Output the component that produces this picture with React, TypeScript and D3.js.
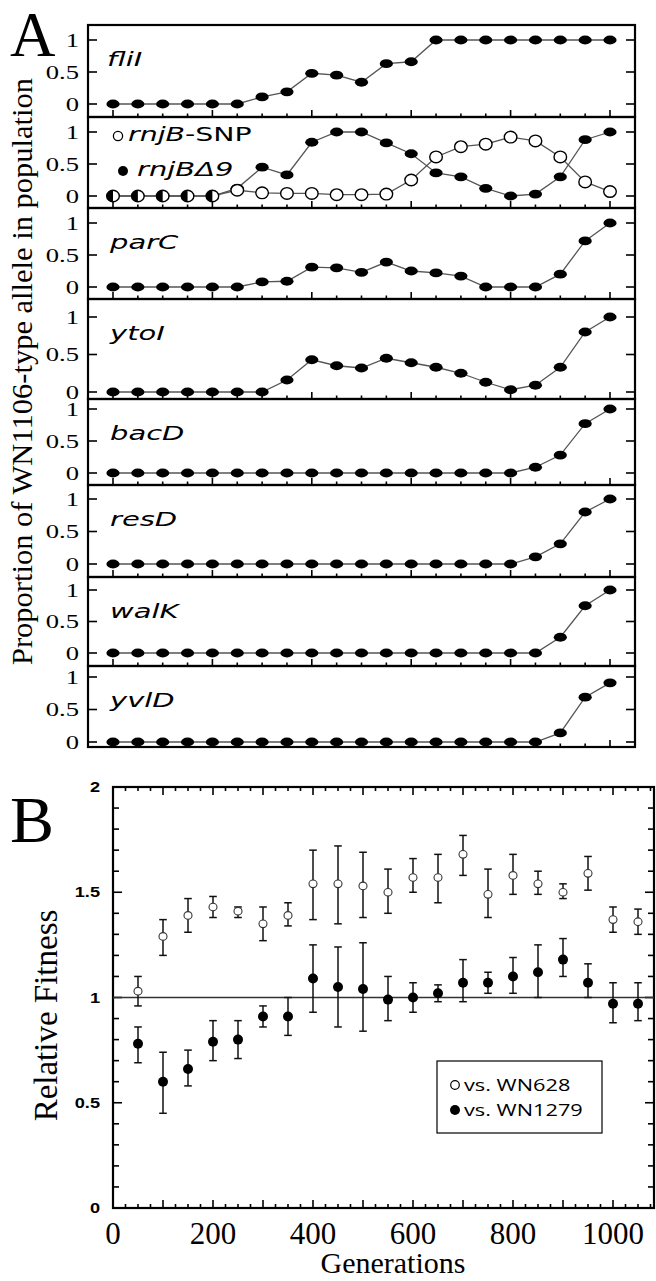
import React from 'react'
import * as d3 from 'd3'

// ---- panel A data (proportion of WN1106-type allele)
const generations = [0, 50, 100, 150, 200, 250, 300, 350, 400, 450, 500, 550, 600, 650, 700, 750, 800, 850, 900, 950, 1000]
const genes = ['fliI', 'rnjB', 'parC', 'ytoI', 'bacD', 'resD', 'walK', 'yvlD']

const fliI = [0, 0, 0, 0, 0, 0, 0.11, 0.19, 0.48, 0.45, 0.34, 0.63, 0.66, 1, 1, 1, 1, 1, 1, 1, 1]
const rnjBSNP = [0, 0, 0, 0, 0, 0.09, 0.05, 0.04, 0.04, 0.02, 0.02, 0.03, 0.25, 0.61, 0.77, 0.81, 0.92, 0.86, 0.61, 0.22, 0.07]
const rnjBDelta9 = [0, 0, 0, 0, 0, 0.12, 0.45, 0.33, 0.84, 1, 1, 0.83, 0.66, 0.36, 0.3, 0.12, 0, 0.03, 0.3, 0.88, 1]
const parC = [0, 0, 0, 0, 0, 0, 0.08, 0.09, 0.31, 0.3, 0.23, 0.39, 0.25, 0.22, 0.17, 0, 0, 0, 0.2, 0.72, 1]
const ytoI = [0, 0, 0, 0, 0, 0, 0, 0.16, 0.43, 0.35, 0.32, 0.45, 0.39, 0.33, 0.25, 0.13, 0.03, 0.09, 0.33, 0.8, 1]
const bacD = [0, 0, 0, 0, 0, 0, 0, 0, 0, 0, 0, 0, 0, 0, 0, 0, 0, 0.09, 0.28, 0.77, 1]
const resD = [0, 0, 0, 0, 0, 0, 0, 0, 0, 0, 0, 0, 0, 0, 0, 0, 0, 0.11, 0.31, 0.8, 1]
const walK = [0, 0, 0, 0, 0, 0, 0, 0, 0, 0, 0, 0, 0, 0, 0, 0, 0, 0, 0.25, 0.75, 1]
const yvlD = [0, 0, 0, 0, 0, 0, 0, 0, 0, 0, 0, 0, 0, 0, 0, 0, 0, 0, 0.14, 0.69, 0.91]
const yTicksA = [0, 0.5, 1]
const yTickLabelsA = ['0', '0.5', '1']

// ---- panel B data (relative fitness)
const gensB = [50, 100, 150, 200, 250, 300, 350, 400, 450, 500, 550, 600, 650, 700, 750, 800, 850, 900, 950, 1000, 1050]
const fit628 = [1.03, 1.29, 1.39, 1.43, 1.41, 1.35, 1.39, 1.54, 1.54, 1.53, 1.5, 1.57, 1.57, 1.68, 1.49, 1.58, 1.54, 1.5, 1.59, 1.37, 1.36]
const lo628 = [0.96, 1.2, 1.31, 1.38, 1.38, 1.27, 1.34, 1.37, 1.35, 1.38, 1.4, 1.5, 1.45, 1.58, 1.38, 1.49, 1.49, 1.47, 1.51, 1.31, 1.3]
const hi628 = [1.1, 1.37, 1.47, 1.48, 1.43, 1.43, 1.45, 1.7, 1.72, 1.69, 1.61, 1.66, 1.68, 1.77, 1.61, 1.68, 1.6, 1.54, 1.67, 1.43, 1.42]
const fit1279 = [0.78, 0.6, 0.66, 0.79, 0.8, 0.91, 0.91, 1.09, 1.05, 1.04, 0.99, 1.0, 1.02, 1.07, 1.07, 1.1, 1.12, 1.18, 1.07, 0.97, 0.97]
const lo1279 = [0.69, 0.45, 0.58, 0.7, 0.71, 0.86, 0.82, 0.93, 0.86, 0.84, 0.89, 0.93, 0.98, 0.98, 1.02, 1.02, 1.0, 1.1, 1.0, 0.88, 0.89]
const hi1279 = [0.86, 0.74, 0.75, 0.89, 0.89, 0.96, 1.0, 1.25, 1.24, 1.26, 1.1, 1.07, 1.06, 1.18, 1.12, 1.19, 1.25, 1.28, 1.16, 1.07, 1.07]
const xTickLabelsB = [0, 200, 400, 600, 800, 1000]
const yTickLabelsB = [0, 0.5, 1, 1.5, 2]
const legendB = ['vs. WN628', 'vs. WN1279']

const W = 656
const H = 1281

// layout of the stacked panels in A
const panelEdges = [25, 117, 208, 299, 399, 485, 577, 666, 747]
const panelZeroOne = [[104, 40], [196, 132], [287, 223], [392, 317], [473, 409], [564, 499], [653, 590], [742, 677]]
const aLeft = 88
const aRight = 635

const serif = '"Liberation Serif", "Times New Roman", serif'
const sans = '"DejaVu Sans", Verdana, sans-serif'

function PanelA() {
	const x = d3.scaleLinear().domain([0, 1000]).range([113, 610])
	const series = [fliI, null, parC, ytoI, bacD, resD, walK, yvlD]
	const minorTicks = d3.range(0, 1001, 50)

	return (
		<g>
			{genes.map((gene, i) => {
				const top = panelEdges[i]
				const bottom = panelEdges[i + 1]
				const y = d3.scaleLinear().domain([0, 1]).range(panelZeroOne[i])
				const line = d3.line<number>().x((d, j) => x(generations[j])).y(d => y(d))
				return (
					<g key={gene}>
						<rect x={aLeft} y={top} width={aRight - aLeft} height={bottom - top} fill="none" stroke="#000" strokeWidth={2.2} />
						{yTicksA.map((t, k) => (
							<g key={k}>
								<line x1={aLeft} x2={aLeft + 9} y1={y(t)} y2={y(t)} stroke="#000" strokeWidth={1.6} />
								<line x1={aRight - 9} x2={aRight} y1={y(t)} y2={y(t)} stroke="#000" strokeWidth={1.6} />
								<text transform={`translate(79,${y(t) + 6.5}) scale(1.4,1)`} textAnchor="end" fontFamily={serif} fontSize={19}>{yTickLabelsA[k]}</text>
							</g>
						))}
						{minorTicks.map(t => (
							<line key={t} x1={x(t)} x2={x(t)} y1={bottom} y2={bottom - (t % 200 === 0 ? 7 : 3.5)} stroke="#000" strokeWidth={1.6} />
						))}
						{series[i] ? (
							<g>
								<path d={line(series[i]) || ''} fill="none" stroke="#555" strokeWidth={1.3} />
								{series[i].map((v, j) => (
									<ellipse key={j} cx={x(generations[j])} cy={y(v)} rx={6.6} ry={4.4} fill="#000" />
								))}
								<text transform={`translate(${gene === 'fliI' ? 107 : 110},${top + 41}) scale(1.45,1)`} fontFamily={sans} fontStyle="italic" fontSize={20}>{gene}</text>
							</g>
						) : (
							<g>
								<path d={line(rnjBDelta9) || ''} fill="none" stroke="#555" strokeWidth={1.3} />
								<path d={line(rnjBSNP) || ''} fill="none" stroke="#555" strokeWidth={1.3} />
								{rnjBDelta9.map((v, j) => (
									<ellipse key={'f' + j} cx={x(generations[j])} cy={y(v)} rx={6.6} ry={4.4} fill="#000" />
								))}
								{rnjBSNP.map((v, j) => (
									<ellipse key={'o' + j} cx={x(generations[j])} cy={y(v)} rx={6.3} ry={5.8} fill="#fff" stroke="#000" strokeWidth={1.4} />
								))}
								{rnjBSNP.map((v, j) => v === rnjBDelta9[j] && v === 0 ? (
									<path key={'h' + j} d={`M${x(generations[j])},${y(v) - 5.8} A6.3,5.8 0 0 0 ${x(generations[j])},${y(v) + 5.8} Z`} fill="#000" />
								) : null)}
								<circle cx={118} cy={136} r={4.6} fill="#fff" stroke="#000" strokeWidth={1.3} />
								<text transform={`translate(128,141) scale(1.42,1)`} fontFamily={sans} fontSize={20}>
									<tspan fontStyle="italic">rnjB</tspan>-SNP
								</text>
								<circle cx={123} cy={171} r={5} fill="#000" />
								<text transform={`translate(137,176) scale(1.45,1)`} fontFamily={sans} fontStyle="italic" fontSize={20}>rnjBΔ9</text>
							</g>
						)}
					</g>
				)
			})}
			<text x={10} y={56} fontFamily={serif} fontSize={63}>A</text>
			<text transform={`translate(32,${(78 + 665) / 2}) rotate(-90)`} textAnchor="middle" fontFamily={serif} fontSize={29} textLength={587} lengthAdjust="spacingAndGlyphs">Proportion of WN1106-type allele in population</text>
		</g>
	)
}

function PanelB() {
	const left = 113
	const right = 654
	const top = 787
	const bottom = 1208
	const x = d3.scaleLinear().domain([0, 1082]).range([left, right])
	const y = d3.scaleLinear().domain([0, 2]).range([bottom, top])
	const xt = d3.range(0, 1076, 25)
	const yt = d3.range(0, 21).map(d => d / 10)
	const cap = 3.8

	return (
		<g>
			<rect x={left} y={top} width={right - left} height={bottom - top} fill="none" stroke="#000" strokeWidth={2.2} />
			{xt.map(t => {
				const len = t % 100 === 0 ? 8 : 4
				return (
					<g key={t}>
						<line x1={x(t)} x2={x(t)} y1={bottom} y2={bottom - len} stroke="#000" strokeWidth={1.6} />
						<line x1={x(t)} x2={x(t)} y1={top} y2={top + len} stroke="#000" strokeWidth={1.6} />
					</g>
				)
			})}
			{yt.map(t => {
				const len = Math.round(t * 10) % 5 === 0 ? 9 : 6
				return (
					<g key={t}>
						<line x1={left} x2={left + len} y1={y(t)} y2={y(t)} stroke="#000" strokeWidth={1.6} />
						<line x1={right - len} x2={right} y1={y(t)} y2={y(t)} stroke="#000" strokeWidth={1.6} />
					</g>
				)
			})}
			{yTickLabelsB.map(t => (
				<text key={t} transform={`translate(100,${y(t) + 5}) scale(1.3,1)`} textAnchor="end" fontFamily='"Liberation Sans", Arial, sans-serif' fontWeight="bold" fontSize={14}>{t}</text>
			))}
			{xTickLabelsB.map(t => (
				<text key={t} x={x(t)} y={1244} textAnchor="middle" fontFamily={serif} fontSize={31}>{t}</text>
			))}
			<line x1={left} x2={right} y1={y(1)} y2={y(1)} stroke="#333" strokeWidth={1.3} />

			{gensB.map((g, i) => (
				<g key={'e' + g} stroke="#111" strokeWidth={1.5}>
					<line x1={x(g)} x2={x(g)} y1={y(lo628[i])} y2={y(hi628[i])} />
					<line x1={x(g) - cap} x2={x(g) + cap} y1={y(lo628[i])} y2={y(lo628[i])} />
					<line x1={x(g) - cap} x2={x(g) + cap} y1={y(hi628[i])} y2={y(hi628[i])} />
					<line x1={x(g)} x2={x(g)} y1={y(lo1279[i])} y2={y(hi1279[i])} />
					<line x1={x(g) - cap} x2={x(g) + cap} y1={y(lo1279[i])} y2={y(lo1279[i])} />
					<line x1={x(g) - cap} x2={x(g) + cap} y1={y(hi1279[i])} y2={y(hi1279[i])} />
				</g>
			))}
			{gensB.map((g, i) => (
				<ellipse key={'o' + g} cx={x(g)} cy={y(fit628[i])} rx={4} ry={3.8} fill="#fff" stroke="#333" strokeWidth={1.1} />
			))}
			{gensB.map((g, i) => (
				<circle key={'f' + g} cx={x(g)} cy={y(fit1279[i])} r={5} fill="#000" />
			))}

			<rect x={437} y={1061} width={165} height={72} fill="#fff" stroke="#000" strokeWidth={1.2} />
			<circle cx={455} cy={1085} r={4.3} fill="#fff" stroke="#000" strokeWidth={1.2} />
			<circle cx={455} cy={1110} r={5} fill="#000" />
			{legendB.map((t, i) => (
				<text key={t} transform={`translate(464,${1091 + i * 25}) scale(1.28,1)`} fontFamily='"Open Sans", sans-serif' fontSize={17}>{t}</text>
			))}

			<text x={10} y={842} fontFamily={serif} fontSize={66}>B</text>
			<text transform={`translate(57,${(903 + 1128) / 2}) rotate(-90)`} textAnchor="middle" fontFamily={serif} fontSize={33}>Relative Fitness</text>
			<text x={393} y={1273} textAnchor="middle" fontFamily={serif} fontSize={30}>Generations</text>
		</g>
	)
}

export default function App() {
	return (
		<svg width={W} height={H} viewBox={`0 0 ${W} ${H}`} style={{position: 'absolute', left: 0, top: 0, background: '#fff'}}>
			<rect width={W} height={H} fill="#fff" />
			<PanelA />
			<PanelB />
		</svg>
	)
}
